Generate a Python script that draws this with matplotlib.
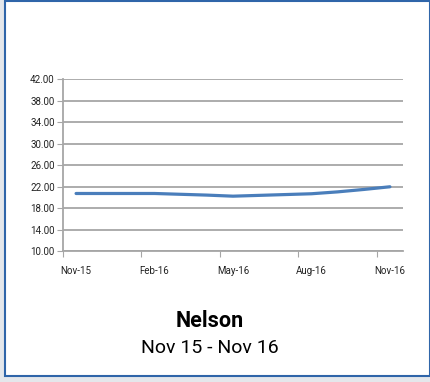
import matplotlib.pyplot as plt
from matplotlib.patches import Rectangle

# monthly values, Nov 2015 .. Nov 2016
months = ['Nov-15', 'Dec-15', 'Jan-16', 'Feb-16', 'Mar-16', 'Apr-16', 'May-16',
          'Jun-16', 'Jul-16', 'Aug-16', 'Sep-16', 'Oct-16', 'Nov-16']
values = [20.7, 20.7, 20.7, 20.7, 20.55, 20.4, 20.2, 20.35, 20.5, 20.65, 21.0, 21.45, 21.95]
yticks = [10, 14, 18, 22, 26, 30, 34, 38, 42]
shown = ['Nov-15', 'Feb-16', 'May-16', 'Aug-16', 'Nov-16']

narrow = ['Roboto', 'DejaVu Sans']

W, H = 431, 382
fig = plt.figure(figsize=(W / 100, H / 100), dpi=100)
fig.patch.set_facecolor('#e4e7eb')

# white panel with blue frame
panel = Rectangle((5.5 / W, 1 - 376 / H), (W - 6) / W, 375.5 / H, transform=fig.transFigure,
                  facecolor='white', edgecolor='#2f65a9', linewidth=1.5, zorder=-5)
fig.patches.append(panel)

ax = fig.add_axes([63 / W, 1 - 251 / H, (403 - 63) / W, (251 - 79) / H])
ax.set_facecolor('none')

x = list(range(len(months)))
ax.plot(x, values, color='#4a7ebb', linewidth=2.3, solid_capstyle='round', zorder=3)

ax.set_xlim(-0.5, len(months) - 0.5)
ax.set_ylim(10, 42)
ax.set_yticks(yticks)
ax.set_yticklabels([f'{v:.2f}' for v in yticks], family=narrow, fontsize=7, color='#222222')
ax.yaxis.grid(True, color='#a6a6a6', linewidth=1.3)

# ticks between categories, labels on the data points
ax.set_xticks([i - 0.5 for i in range(0, len(months) + 1, 3)])
ax.set_xticklabels([])
ax.set_xticks([months.index(m) for m in shown], minor=True)
ax.set_xticklabels(shown, minor=True, family=narrow, fontsize=7, color='#222222')
ax.tick_params(axis='x', which='minor', length=0, pad=11)
ax.tick_params(axis='x', which='major', length=4, color='#a6a6a6', direction='out')
ax.tick_params(axis='y', length=4, color='#a6a6a6', pad=2)

for side in ['top', 'right']:
    ax.spines[side].set_visible(False)
for side in ['left', 'bottom']:
    ax.spines[side].set_color('#a6a6a6')
    ax.spines[side].set_linewidth(1.3)

fig.text(210 / W, 1 - 321 / H, 'Nelson', ha='center', va='center', fontsize=15.5,
         fontweight='bold', family=narrow)
fig.text(210 / W, 1 - 348 / H, 'Nov 15 - Nov 16', ha='center', va='center', fontsize=14,
         family=narrow)

plt.savefig('out.png', dpi=100)
